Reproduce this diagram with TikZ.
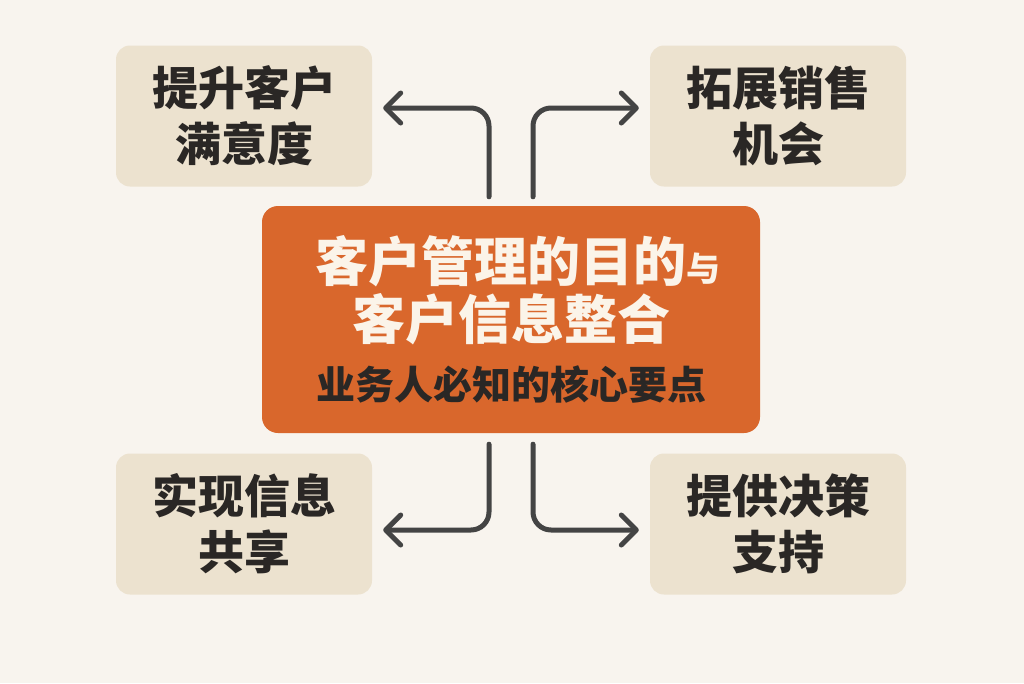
\documentclass[tikz,border=0pt]{standalone}
\usepackage{fontspec}
\newfontfamily\cjk{Noto Sans CJK SC}
\usetikzlibrary{arrows.meta,positioning,calc}
\definecolor{paper}{HTML}{F8F4EE}
\definecolor{sand}{HTML}{ECE2CF}
\definecolor{rust}{HTML}{D9672C}
\definecolor{ink}{HTML}{2A2725}
\definecolor{cream}{HTML}{FBF4E9}
\definecolor{wire}{HTML}{444444}
\tikzset{>={Straight Barb[length=15pt,width=30pt,round]}}

\begin{document}
\begin{tikzpicture}[x=1pt,y=-1pt,
    goal/.style={fill=sand, rounded corners=14pt, minimum width=256pt,
      minimum height=141pt, inner sep=0pt, align=center, text=ink,
      font=\cjk\bfseries\fontsize{46}{56}\selectfont},
    core/.style={fill=rust, rounded corners=16pt, minimum width=498pt,
      minimum height=227pt, inner sep=0pt, align=center, text=cream,
      font=\cjk\bfseries\fontsize{53}{58}\selectfont},
    link/.style={->, draw=wire, line width=5pt, rounded corners=18pt,
      line cap=round}]
  \fill[paper] (0,0) rectangle (1024,683);
  \useasboundingbox (0,0) rectangle (1024,683);
  % four goals round the core
  \node[goal] (sat) at (244,116) {提升客户\\满意度};
  \node[goal] (sales) at (778,116) {拓展销售\\机会};
  \node[goal] (share) at (244,524) {实现信息\\共享};
  \node[goal] (decide) at (778,524) {提供决策\\支持};
  \node[core] (core) at (511,319.5)
    {\hspace*{14pt}客户管理的目的{\fontsize{34}{40}\selectfont 与}\\
     客户信息整合\\[2pt]
     {\color{ink}\fontsize{39}{44}\selectfont 业务人必知的核心要点}};
  % connectors
  \draw[link] ([xshift=-22pt,yshift=9pt]core.north) |- ([xshift=11pt,yshift=8pt]sat.east);
  \draw[link] ([xshift=22pt,yshift=9pt]core.north) |- ([xshift=-11pt,yshift=8pt]sales.west);
  \draw[link] ([xshift=-22pt,yshift=-11pt]core.south) |- ([xshift=11pt,yshift=-6pt]share.east);
  \draw[link] ([xshift=22pt,yshift=-11pt]core.south) |- ([xshift=-11pt,yshift=-6pt]decide.west);
\end{tikzpicture}
\end{document}
